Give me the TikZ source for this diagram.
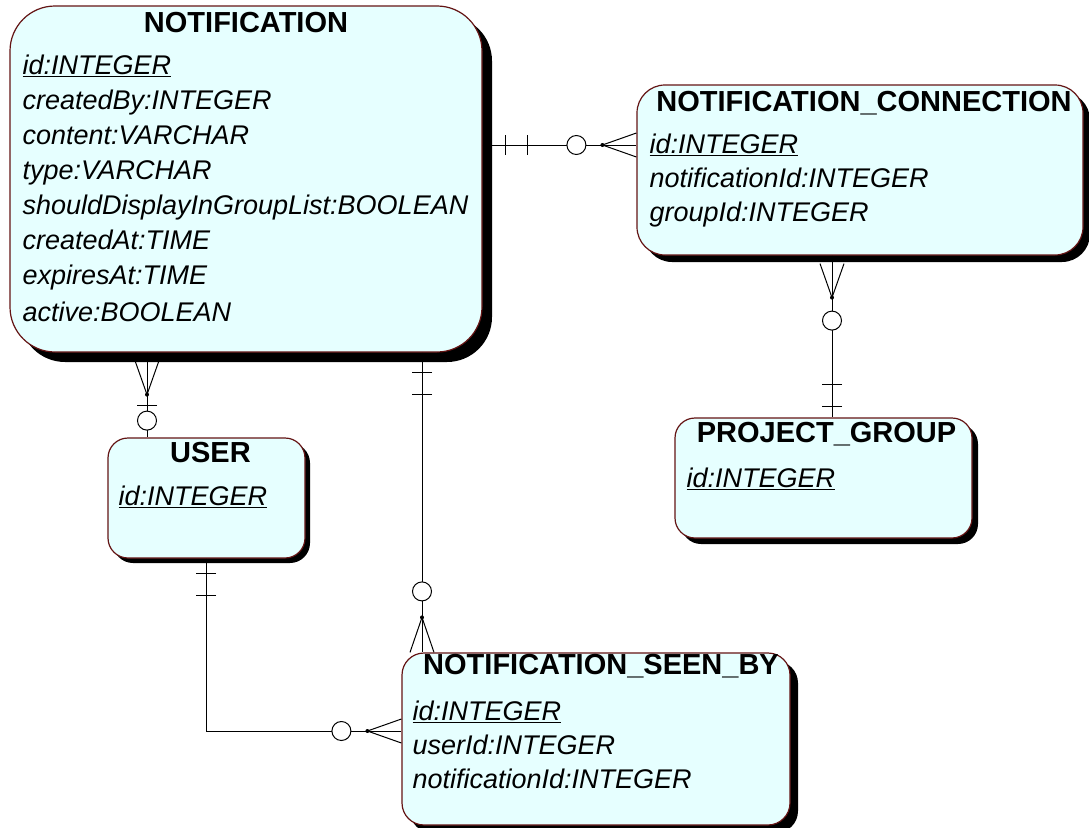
\documentclass[tikz,border=0pt]{standalone}
\usepackage{fontspec}
\setmainfont{Liberation Sans}
\usetikzlibrary{positioning,shadows,decorations.markings}

\definecolor{entfill}{RGB}{230,255,255}
\definecolor{entline}{RGB}{100,20,20}

\tikzset{
  entity/.style 2 args={shape=rectangle, draw=entline, fill=entfill, line width=1.2pt,
    rounded corners=#1, inner sep=0pt,
    drop shadow={shadow xshift=#2, shadow yshift=-#2, fill=black, opacity=1}},
  head/.style={anchor=base, inner sep=0pt, font=\fontsize{29}{34}\selectfont\bfseries},
  attrs/.style={anchor=north west, inner sep=0pt, align=left, font=\fontsize{27}{#1}\selectfont\itshape},
  attrs/.default=34,
  rel/.style={line width=1pt},
  bar/.style={postaction={decorate, decoration={markings, mark=at position #1 with
    {\draw[line width=1.3pt] (0,-10) -- (0,10);}}}},
  ring/.style={postaction={decorate, decoration={markings, mark=at position #1 with
    {\draw[line width=1pt, fill=white] (0,0) circle (9.5);}}}},
  crow end/.style={postaction={decorate, decoration={markings, mark=at position 1 with
    {\draw[line width=1pt] (0,12) -- (-#1,0) -- (0,-12); \fill (-#1,0) circle (2);}}}},
  crow start/.style={postaction={decorate, decoration={markings, mark=at position #1 with
    {\draw[line width=1pt] (0,12) -- (34,0) -- (0,-12); \fill (34,0) circle (2);}}}}
}

\begin{document}
\begin{tikzpicture}[x=1pt, y=-1pt]
    \useasboundingbox (0,0) rectangle (1089,827);

    % entities
    \node[entity={45pt}{10pt}, minimum width=472pt, minimum height=346pt] (ntf) at (246,179) {};
    \node[entity={28pt}{7pt}, minimum width=446pt, minimum height=170pt] (con) at (860,170) {};
    \node[entity={20pt}{6pt}, minimum width=297pt, minimum height=120pt] (grp) at (823.5,478) {};
    \node[entity={20pt}{5pt}, minimum width=197pt, minimum height=120pt] (usr) at (206.5,498) {};
    \node[entity={22pt}{8pt}, minimum width=388pt, minimum height=172pt] (seen) at (596,739) {};

    % titles
    \node[head] (ntfh) at ([yshift=-27pt]ntf.north) {NOTIFICATION};
    \node[head] (conh) at ([xshift=4pt,yshift=-27pt]con.north) {NOTIFICATION\_CONNECTION};
    \node[head] (grph) at ([xshift=3pt,yshift=-25pt]grp.north) {PROJECT\_GROUP};
    \node[head] (usrh) at ([xshift=4pt,yshift=-25pt]usr.north) {USER};
    \node[head] (seenh) at ([xshift=5pt,yshift=-22pt]seen.north) {NOTIFICATION\_SEEN\_BY};

    % attributes
    \node[attrs=35] (ntfa) at ([xshift=13pt,yshift=-49pt]ntf.north west)
        {\underline{id:INTEGER}\\createdBy:INTEGER\\content:VARCHAR\\type:VARCHAR\\
         shouldDisplayInGroupList:BOOLEAN\\createdAt:TIME\\expiresAt:TIME\\[2pt]active:BOOLEAN};
    \node[attrs] (cona) at ([xshift=13pt,yshift=-49pt]con.north west)
        {\underline{id:INTEGER}\\notificationId:INTEGER\\groupId:INTEGER};
    \node[attrs] (grpa) at ([xshift=12pt,yshift=-50pt]grp.north west) {\underline{id:INTEGER}};
    \node[attrs] (usra) at ([xshift=11pt,yshift=-48pt]usr.north west) {\underline{id:INTEGER}};
    \node[attrs] (seena) at ([xshift=11pt,yshift=-48pt]seen.north west)
        {\underline{id:INTEGER}\\userId:INTEGER\\notificationId:INTEGER};

    % relationships
    \coordinate (r1) at (0,145);
    \coordinate (c2) at (832,0);
    \coordinate (c3) at (147,0);
    \coordinate (c4) at (422,0);
    \coordinate (c5) at (206,0);
    \coordinate (r5) at (0,731);
    \draw[rel, bar=23pt, bar=45pt, ring=-60pt, crow end=34] (ntf.east |- r1) -- (con.west |- r1);
    \draw[rel, crow start=8pt, ring=65pt, bar=-33pt, bar=-11pt] (con.south -| c2) -- (grp.north -| c2);
    \draw[rel, crow start=8pt, bar=53pt, ring=68pt] (ntf.south -| c3) -- (usr.north -| c3);
    \draw[rel, bar=20pt, bar=42pt, ring=-61pt, crow end=35] (ntf.south -| c4) -- (seen.north -| c4);
    \draw[rel, bar=15pt, bar=37pt, ring=-60pt, crow end=34] (usr.south -| c5) |- (seen.west |- r5);
\end{tikzpicture}
\end{document}
